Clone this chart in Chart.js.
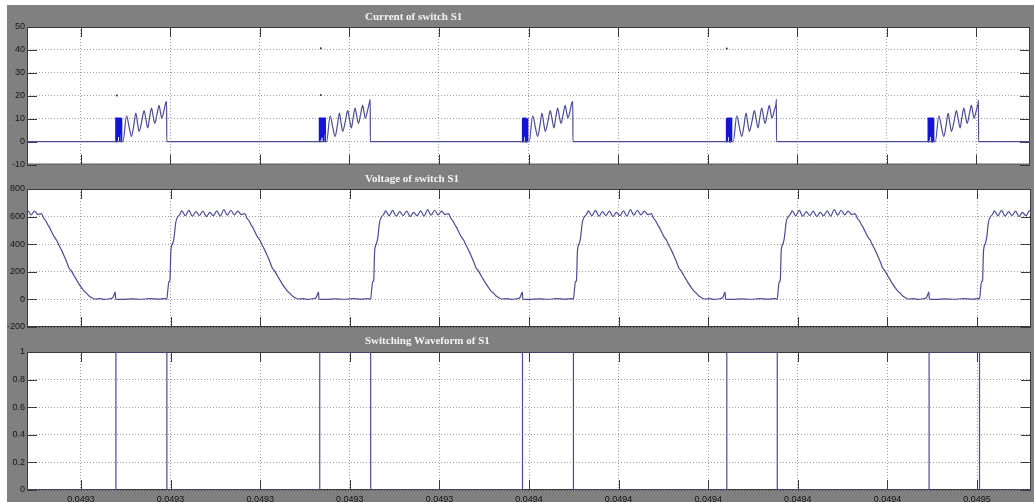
<!DOCTYPE html>
<html>
<head>
<meta charset="utf-8">
<script src="https://cdn.jsdelivr.net/npm/chart.js@4.4.1/dist/chart.umd.min.js"></script>
<style>
  html, body { margin: 0; padding: 0; background: #fff; }
  #scope { position: absolute; left: 7px; top: 5px; width: 1027px; height: 497px; background: #808080; }
  canvas { position: absolute; left: 0; }
  .ttl { position: absolute; left: 365px; font: bold 11px "Liberation Serif", "Times New Roman", serif;
         color: #f4f4f4; line-height: 12px; white-space: nowrap; }
</style>
</head>
<body>
<div id="scope"></div>
<canvas id="cur" width="1034" height="172" style="top:0px"></canvas>
<canvas id="volt" width="1034" height="168" style="top:168px"></canvas>
<canvas id="sw" width="1034" height="170" style="top:332px"></canvas>
<div class="ttl" style="top:10px">Current of switch S1</div>
<div class="ttl" style="top:172px">Voltage of switch S1</div>
<div class="ttl" style="top:334px">Switching Waveform of S1</div>

<script>
// time axis in microseconds, 0 = first tick (labels are the scope's rounded seconds)
var xMin = -12.05, xMax = 212.05;
var xTickValues = [0, 20, 40, 60, 80, 100, 120, 140, 160, 180, 200];
var xTickLabels = ['0.0493', '0.0493', '0.0493', '0.0493', '0.0493',
                   '0.0494', '0.0494', '0.0494', '0.0494', '0.0494', '0.0495'];

var currentTicks = [-10, 0, 10, 20, 30, 40, 50];
var voltageTicks = [-200, 0, 200, 400, 600, 800];
var switchTicks = [0, 0.2, 0.4, 0.6, 0.8, 1];
var switchTickLabels = ['0', '0.2', '0.4', '0.6', '0.8', '1'];

// gate pulse edges (us)
var switchRise = [7.80, 53.29, 98.55, 144.15, 189.30];
var switchFall = [19.17, 64.66, 109.92, 155.41, 200.56];

// voltage: one cycle, starting at a turn-off edge
var voltageFall = [-26.2, 19.17, 64.66, 109.92, 155.41, 200.56];
var voltageShapeT = [0, 0.22, 0.45, 0.67, 0.89, 1.23, 1.56, 2.0, 2.45, 2.9,
  3.34, 4.12, 4.91, 5.69, 6.47, 7.25, 8.03, 8.81, 9.59, 10.37, 11.15, 11.93, 12.71, 13.49, 14.27, 15.05, 15.83, 16.61, 17.39,
  17.84, 18.3, 18.73, 19.2, 19.62, 20.2, 20.74, 21.3, 21.85, 22.4, 22.97, 23.5, 24.08, 24.6, 25.2, 25.75, 26.31, 26.9, 27.42, 28.0, 28.54, 29.21,
  30.5, 31.5, 32.5, 33.3, 33.85, 33.95, 35.5, 37.5, 39.5, 41.5, 43.5, 44.9];
var voltageShapeV = [2, 70, 128, 135, 350, 400, 440, 560, 600, 615,
  642, 606, 645, 603, 636, 608, 640, 600, 630, 606, 642, 604, 650, 610, 646, 612, 640, 615, 622,
  590, 572, 545, 520, 492, 455, 430, 392, 357, 318, 275, 230, 205, 175, 142, 112, 85, 60, 45, 25, 14, 3,
  5, 0, 4, 12, 52, 2, 0, 4, 1, 5, 2, 6];

// current: ramp after the turn-on burst (us after rising edge)
var currentRampT = [1.29, 1.6, 2.39, 3.0, 3.5, 4.0, 4.46, 4.85, 5.2, 5.8, 6.31, 6.7, 7.13, 7.5, 7.96,
  8.35, 8.7, 9.2, 9.65, 9.95, 10.26, 10.8, 11.2];
var currentRampV = [0, 0, 11.3, 6, 2.3, 7, 12.5, 8, 4.5, 9, 13.5, 10, 6, 10, 14.6,
  11, 8, 12, 15.8, 13, 10.3, 14, 17.3];
var currentPeak = [17.5, 18.5, 17.5, 18.5, 18];
// dense switching burst at turn-on
var burstT = [0, 0.02, 0.2, 0.22, 0.3, 0.32, 0.5, 0.52, 0.6, 0.62, 0.8, 0.82, 0.9, 0.92, 1.1, 1.12, 1.2, 1.27, 1.29];
var burstV = [0, 10.2, 10.2, 0.5, 0.5, 10.2, 10.2, 2, 2, 10.2, 10.2, 0, 0, 10.2, 10.2, 3, 10.2, 10.2, 0];
var currentDots = [{x: 8.04, y: 20.1}, {x: 53.6, y: 20.4}, {x: 53.6, y: 40.7}, {x: 144.3, y: 40.6}];

var lineColor = '#4c4c94';

// build point lists
var voltPts = [];
voltageFall.forEach(function(f) {
  voltageShapeT.forEach(function(t, i) {
    var x = f + t;
    if (x > xMin - 2 && x < xMax + 2) voltPts.push({x: x, y: voltageShapeV[i]});
  });
});

var curPts = [{x: xMin - 1, y: 0}];
var burstPts = [];
switchRise.forEach(function(r, k) {
  curPts.push({x: r, y: 0});
  currentRampT.forEach(function(t, i) { curPts.push({x: r + t, y: currentRampV[i]}); });
  curPts.push({x: switchFall[k] - 0.02, y: currentPeak[k]}, {x: switchFall[k], y: 0});
  burstT.forEach(function(t, i) { burstPts.push({x: r + t, y: burstV[i]}); });
  burstPts.push({x: r + 1.3, y: null});
});
curPts.push({x: xMax + 1, y: 0});

var swPts = [{x: xMin - 1, y: 0}];
switchRise.forEach(function(r, k) {
  swPts.push({x: r, y: 0}, {x: r, y: 1}, {x: switchFall[k], y: 1}, {x: switchFall[k], y: 0});
});
swPts.push({x: xMax + 1, y: 0});

Chart.defaults.font.family = '"Liberation Sans", Arial, sans-serif';
Chart.defaults.font.size = 9;
Chart.defaults.color = '#151515';

var scopeFrame = {
  id: 'scopeFrame',
  beforeDraw: function(chart) {
    var a = chart.chartArea, c = chart.ctx;
    c.save();
    c.fillStyle = '#ffffff';
    c.fillRect(a.left, a.top, a.right - a.left, a.bottom - a.top);
    c.restore();
  },
  beforeDatasetsDraw: function(chart) {
    var a = chart.chartArea, c = chart.ctx;
    var xs = chart.scales.x, ys = chart.scales.y;
    c.save();
    c.strokeStyle = '#3a3a3a';
    c.lineWidth = 1;
    c.beginPath();
    xs.ticks.forEach(function(t) {
      var px = Math.round(xs.getPixelForValue(t.value)) + 0.5;
      c.moveTo(px, a.top); c.lineTo(px, a.top + 10);
      c.moveTo(px, a.bottom); c.lineTo(px, a.bottom - 10);
    });
    ys.ticks.forEach(function(t) {
      var py = Math.round(ys.getPixelForValue(t.value)) + 0.5;
      c.moveTo(a.left, py); c.lineTo(a.left + 10, py);
      c.moveTo(a.right, py); c.lineTo(a.right - 10, py);
    });
    c.stroke();
    c.strokeRect(a.left + 0.5, a.top + 0.5, a.right - a.left - 1, a.bottom - a.top - 1);
    c.restore();
  }
};

function makeScope(id, datasets, yTicks, yLabels, padTop, padBottom, showX) {
  return new Chart(document.getElementById(id), {
    type: 'line',
    data: { datasets: datasets },
    plugins: [scopeFrame],
    options: {
      responsive: false,
      animation: false,
      events: [],
      layout: { padding: { left: 0, right: 3, top: padTop, bottom: padBottom } },
      plugins: { legend: { display: false }, tooltip: { enabled: false } },
      elements: { point: { radius: 0 }, line: { tension: 0, borderWidth: 1.2 } },
      scales: {
        x: {
          type: 'linear', min: xMin, max: xMax,
          afterBuildTicks: function(s) { s.ticks = xTickValues.map(function(v) { return {value: v}; }); },
          afterFit: function(s) { s.height = showX ? 12 : 0; },
          grid: { color: 'rgba(0,0,0,0.38)', drawTicks: false },
          border: { display: false, dash: [1, 2] },
          ticks: {
            display: showX, padding: 4, maxRotation: 0, autoSkip: false,
            callback: function(v, i) { return xTickLabels[i]; }
          }
        },
        y: {
          min: yTicks[0], max: yTicks[yTicks.length - 1],
          afterBuildTicks: function(s) { s.ticks = yTicks.map(function(v) { return {value: v}; }); },
          afterFit: function(s) { s.width = 27; },
          grid: { color: 'rgba(0,0,0,0.38)', drawTicks: false },
          border: { display: false, dash: [1, 2] },
          ticks: {
            padding: 2, autoSkip: false,
            callback: function(v, i) { return yLabels[i]; }
          }
        }
      }
    }
  });
}

makeScope('cur', [
  { data: curPts, borderColor: lineColor, borderWidth: 1.2, cubicInterpolationMode: 'monotone' },
  { data: burstPts, borderColor: '#1414d8', borderWidth: 1.5, spanGaps: false },
  { data: currentDots, showLine: false, pointRadius: 1, pointBackgroundColor: '#333', pointBorderWidth: 0 }
], currentTicks, currentTicks.map(String), 27, 7, false);

makeScope('volt', [
  { data: voltPts, borderColor: lineColor, borderWidth: 1.2, cubicInterpolationMode: 'monotone' }
], voltageTicks, voltageTicks.map(String), 21, 9, false);

makeScope('sw', [
  { data: swPts, borderColor: lineColor, borderWidth: 1.2 }
], switchTicks, switchTickLabels, 20, 0, true);
</script>
</body>
</html>
